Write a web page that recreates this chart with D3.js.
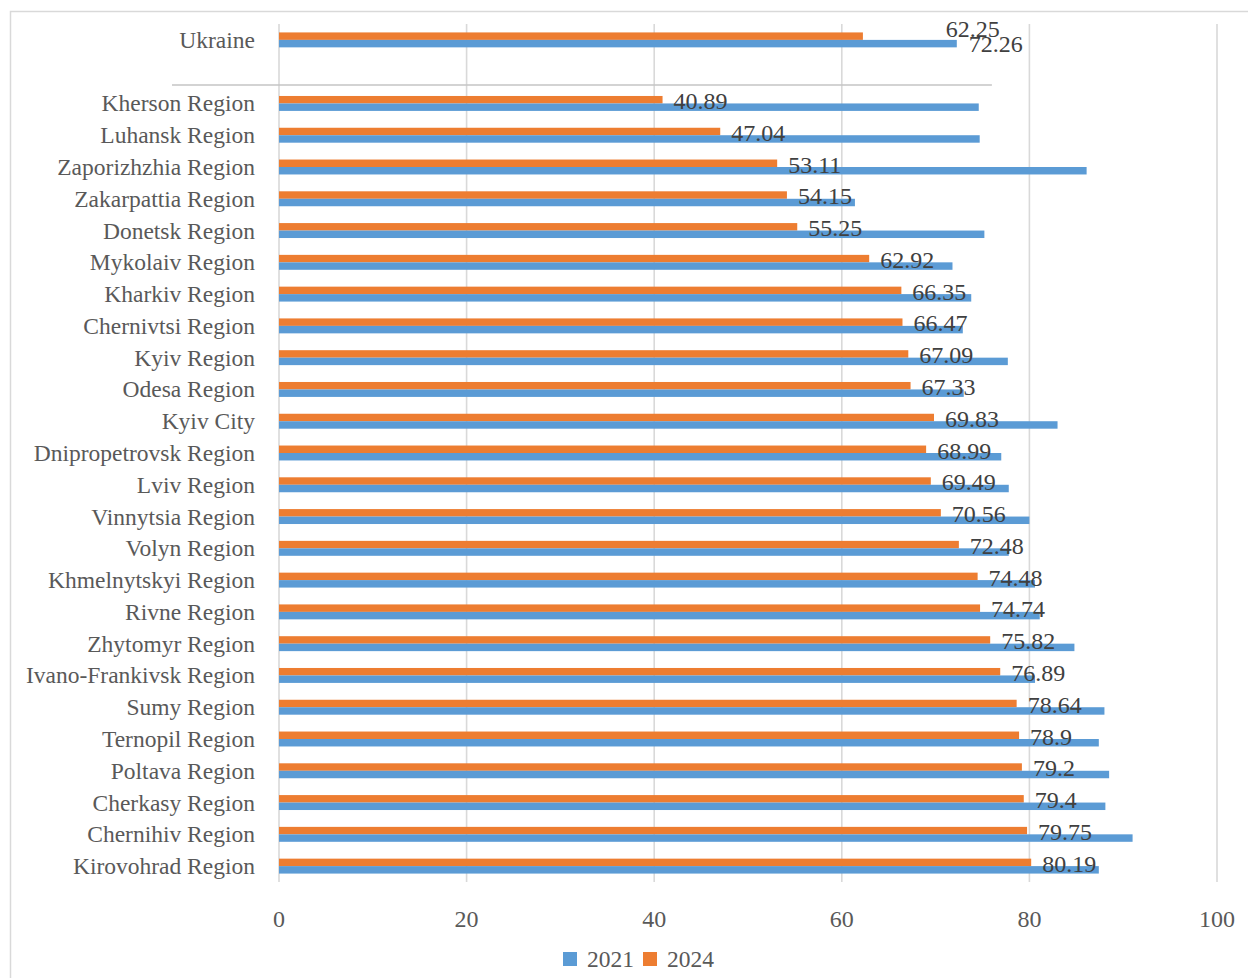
<!DOCTYPE html>
<html>
<head>
<meta charset="utf-8">
<script src="https://cdn.jsdelivr.net/npm/d3@7"></script>
<style>
  html, body { margin: 0; padding: 0; background: #fff; }
  svg { display: block; font-family: "Liberation Serif", "Times New Roman", serif; }
</style>
</head>
<body>
<svg id="chart" width="1248" height="978"></svg>
<script>
// Regions, listed top to bottom; the national figure sits above a separator.
const nationalLabel = "Ukraine";
const regions = [
  "Kherson Region", "Luhansk Region", "Zaporizhzhia Region", "Zakarpattia Region",
  "Donetsk Region", "Mykolaiv Region", "Kharkiv Region", "Chernivtsi Region",
  "Kyiv Region", "Odesa Region", "Kyiv City", "Dnipropetrovsk Region",
  "Lviv Region", "Vinnytsia Region", "Volyn Region", "Khmelnytskyi Region",
  "Rivne Region", "Zhytomyr Region", "Ivano-Frankivsk Region", "Sumy Region",
  "Ternopil Region", "Poltava Region", "Cherkasy Region", "Chernihiv Region",
  "Kirovohrad Region"
];

// 2021 values (national first, then regions in the order above)
const values2021 = [
  72.26,
  74.6, 74.7, 86.1, 61.4, 75.2, 71.8, 73.8, 72.9, 77.7, 73.0, 83.0, 77.0,
  77.8, 80.0, 77.8, 80.6, 81.1, 84.8, 80.6, 88.0, 87.4, 88.5, 88.1, 91.0, 87.4
];

// 2024 values (national first, then regions in the order above)
const values2024 = [
  62.25,
  40.89, 47.04, 53.11, 54.15, 55.25, 62.92, 66.35, 66.47, 67.09, 67.33, 69.83, 68.99,
  69.49, 70.56, 72.48, 74.48, 74.74, 75.82, 76.89, 78.64, 78.9, 79.2, 79.4, 79.75, 80.19
];

const seriesNames = ["2021", "2024"];
const xTicks = [0, 20, 40, 60, 80, 100];

const colors = { "2021": "#5B9BD5", "2024": "#ED7D31" };

const svg = d3.select("#chart");
const W = 1248, H = 978;

// Chart area border
svg.append("rect")
  .attr("x", 10.5).attr("y", 11.5)
  .attr("width", W + 20).attr("height", H + 20)
  .attr("fill", "#fff").attr("stroke", "#d9d9d9").attr("stroke-width", 1.5);

const plot = { left: 279, right: 1217, top: 24, bottom: 882 };

// Row layout: national row, one empty spacer row, then the regions
const spacer = "__spacer__";
const rowKeys = [nationalLabel, spacer, ...regions];
const rows = [nationalLabel, ...regions].map((name, i) => ({
  name,
  v2021: values2021[i],
  v2024: values2024[i]
}));

const x = d3.scaleLinear().domain([0, 100]).range([plot.left, plot.right]);
const y = d3.scaleBand()
  .domain(rowKeys)
  .range([plot.top, plot.bottom])
  .paddingInner(0.53)
  .paddingOuter(0.265);
const ySub = d3.scaleBand().domain(["2024", "2021"]).range([0, y.bandwidth()]);
const rowCenter = k => y(k) + y.bandwidth() / 2;

// Vertical gridlines
svg.append("g")
  .selectAll("line")
  .data(xTicks)
  .join("line")
  .attr("x1", d => x(d)).attr("x2", d => x(d))
  .attr("y1", plot.top).attr("y2", plot.bottom)
  .attr("stroke", "#d9d9d9").attr("stroke-width", 1.6);

// Separator between national and regional rows, just above the first region
const sepY = rowCenter(regions[0]) - y.step() / 2 - 2.5;
svg.append("line")
  .attr("x1", 172).attr("x2", x(76))
  .attr("y1", sepY).attr("y2", sepY)
  .attr("stroke", "#c4c4c4").attr("stroke-width", 1.5);

// Bars
const barG = svg.append("g");
rows.forEach(r => {
  [["2024", r.v2024], ["2021", r.v2021]].forEach(([s, v]) => {
    barG.append("rect")
      .attr("x", x(0))
      .attr("y", y(r.name) + ySub(s))
      .attr("width", x(v) - x(0))
      .attr("height", ySub.bandwidth())
      .attr("fill", colors[s]);
  });
});

// Category labels
svg.append("g")
  .selectAll("text")
  .data(rows)
  .join("text")
  .attr("x", 255)
  .attr("y", d => rowCenter(d.name) + 8)
  .attr("text-anchor", "end")
  .attr("font-size", 23.5)
  .attr("fill", "#595959")
  .text(d => d.name);

// Value labels
const labelG = svg.append("g")
  .attr("font-size", 24)
  .attr("fill", "#404040");

rows.slice(1).forEach(r => {
  labelG.append("text")
    .attr("x", x(r.v2024) + 11)
    .attr("y", rowCenter(r.name) + 5.5)
    .text(r.v2024);
});

// National row carries labels for both years
const nat = rows[0];
labelG.append("text")
  .attr("x", x(nat.v2021) - 11)
  .attr("y", rowCenter(nat.name) - 3)
  .text(nat.v2024);
labelG.append("text")
  .attr("x", x(nat.v2021) + 12)
  .attr("y", rowCenter(nat.name) + 12.5)
  .text(nat.v2021);

// X axis tick labels
svg.append("g")
  .selectAll("text")
  .data(xTicks)
  .join("text")
  .attr("x", d => x(d))
  .attr("y", 927)
  .attr("text-anchor", "middle")
  .attr("font-size", 24)
  .attr("fill", "#595959")
  .text(d => d);

// Legend
const legend = svg.append("g").attr("transform", "translate(563, 952)");
seriesNames.forEach((s, i) => {
  const g = legend.append("g").attr("transform", `translate(${i * 80}, 0)`);
  g.append("rect").attr("width", 14).attr("height", 14).attr("fill", colors[s]);
  g.append("text")
    .attr("x", 24).attr("y", 15)
    .attr("font-size", 23.5)
    .attr("fill", "#595959")
    .text(s);
});
</script>
</body>
</html>
